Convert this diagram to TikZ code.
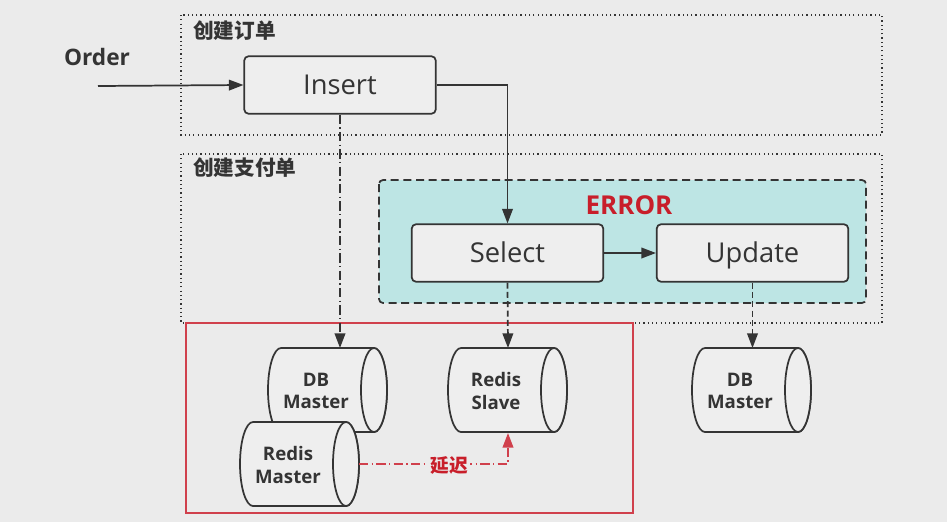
\documentclass[tikz,border=0pt]{standalone}
\usepackage{fontspec}
\setmainfont{Open Sans}
\newfontfamily\cjk{Noto Sans CJK SC}
\usetikzlibrary{arrows.meta,calc}
\definecolor{bg}{HTML}{EBEBEB}
\definecolor{ln}{HTML}{343434}
\definecolor{boxfill}{HTML}{EEEEEE}
\definecolor{cyanf}{HTML}{BDE5E4}
\definecolor{redc}{HTML}{C81E2A}
\definecolor{redb}{HTML}{D0404C}
\newcommand\dbcyl[4]{%
  \begin{scope}[shift={(#2,#3)}]
    \filldraw[cylsty] (106,0) -- (13,0)
      arc[start angle=90,end angle=270,x radius=9.75pt,y radius=31.5pt]
      -- (106,84)
      arc[start angle=-90,end angle=90,x radius=9.75pt,y radius=31.5pt] -- cycle;
    \draw[cylsty] (106,42) ellipse[x radius=9.75pt,y radius=31.5pt];
    \node[cyltext] (#1) at (48,43) {#4};
    \coordinate (#1-top) at (60,0);
    \coordinate (#1-bot) at (60,85);
    \coordinate (#1-e) at (119,42);
  \end{scope}}
\begin{document}
\begin{tikzpicture}[x=0.75pt,y=-0.75pt,
  proc/.style={draw=ln,line width=1.3pt,fill=boxfill,rounded corners=3pt,
    minimum width=143.5pt,minimum height=43pt,inner sep=0pt,
    text height=15pt,text depth=1pt,
    font=\fontsize{20.5}{24}\selectfont,text=ln},
  dotbox/.style={draw=ln,line width=1.4pt,dash pattern=on 0.9pt off 2.3pt},
  errbox/.style={draw=ln,line width=1.3pt,dash pattern=on 6pt off 3.5pt,fill=cyanf,rounded corners=3pt},
  cylsty/.style={draw=ln,line width=1.3pt,fill=boxfill},
  cyltext/.style={align=center,inner sep=0pt,font=\bfseries\fontsize{14}{17}\selectfont,text=ln},
  conn/.style={draw=ln,line width=1.3pt},
  tip/.style={-{Triangle[length=11pt,width=8pt]}},
  dashdot/.style={dash pattern=on 7pt off 2.5pt on 1pt off 2.5pt},
  dsh/.style={dash pattern=on 4.5pt off 2.5pt},
  cjklab/.style={anchor=west,inner sep=0pt,font=\cjk\bfseries\fontsize{15.5}{18}\selectfont,text=ln}
]
\useasboundingbox[fill=bg] (0,0) rectangle (947,522);

% group boxes
\draw[dotbox] (181,15) rectangle (882,135);
\node[cjklab] (lab1) at (193,31) {创建订单};
\draw[dotbox] (181,154) rectangle (882,323);
\node[cjklab] (lab2) at (193,168) {创建支付单};

% error box
\draw[errbox] (379,180) rectangle (866,303);
\node[font=\bfseries\fontsize{19.5}{22}\selectfont,text=redc] (err) at (629,205) {ERROR};

% red box
\draw[draw=redb,line width=1.3pt] (186,323) rectangle (633,513);

% process nodes
\node[proc] (ins) at (340,85) {Insert};
\node[proc] (sel) at (507.5,253) {Select};
\node[proc] (upd) at (752.5,253) {Update};

\node[font=\bfseries\fontsize{17}{20}\selectfont,text=ln] (order) at (97,57) {Order};
\coordinate (ostart) at (98,86);

% cylinders
\dbcyl{dbm}{268}{348}{DB\\Master}
\dbcyl{rm}{240}{422}{Redis\\Master}
\dbcyl{rs}{448}{348}{Redis\\Slave}
\dbcyl{dbm2}{692}{348}{DB\\Master}

% connectors
\draw[conn,tip] (ostart) -- (ins.west);
\draw[conn,tip] (ins.east) -| (sel.north);
\draw[conn,tip] (sel.east) -- (upd.west);
\draw[conn,tip,dashdot] (ins.south) -- (ins.south |- dbm-top);
\draw[conn,tip,dsh] (sel.south) -- (rs-top);
\draw[conn,tip,dsh] (upd.south) -- (upd.south |- dbm2-top);

\draw[draw=redb,line width=1.4pt,dashdot,-{Triangle[length=11pt,width=8pt]}] (rm-e) -- (rm-e -| rs-bot) -- (rs-bot);
\node[fill=bg,inner sep=1.5pt,font=\cjk\bfseries\fontsize{14}{16}\selectfont,text=redc] (delay) at (449,465) {延迟};
\end{tikzpicture}
\end{document}
